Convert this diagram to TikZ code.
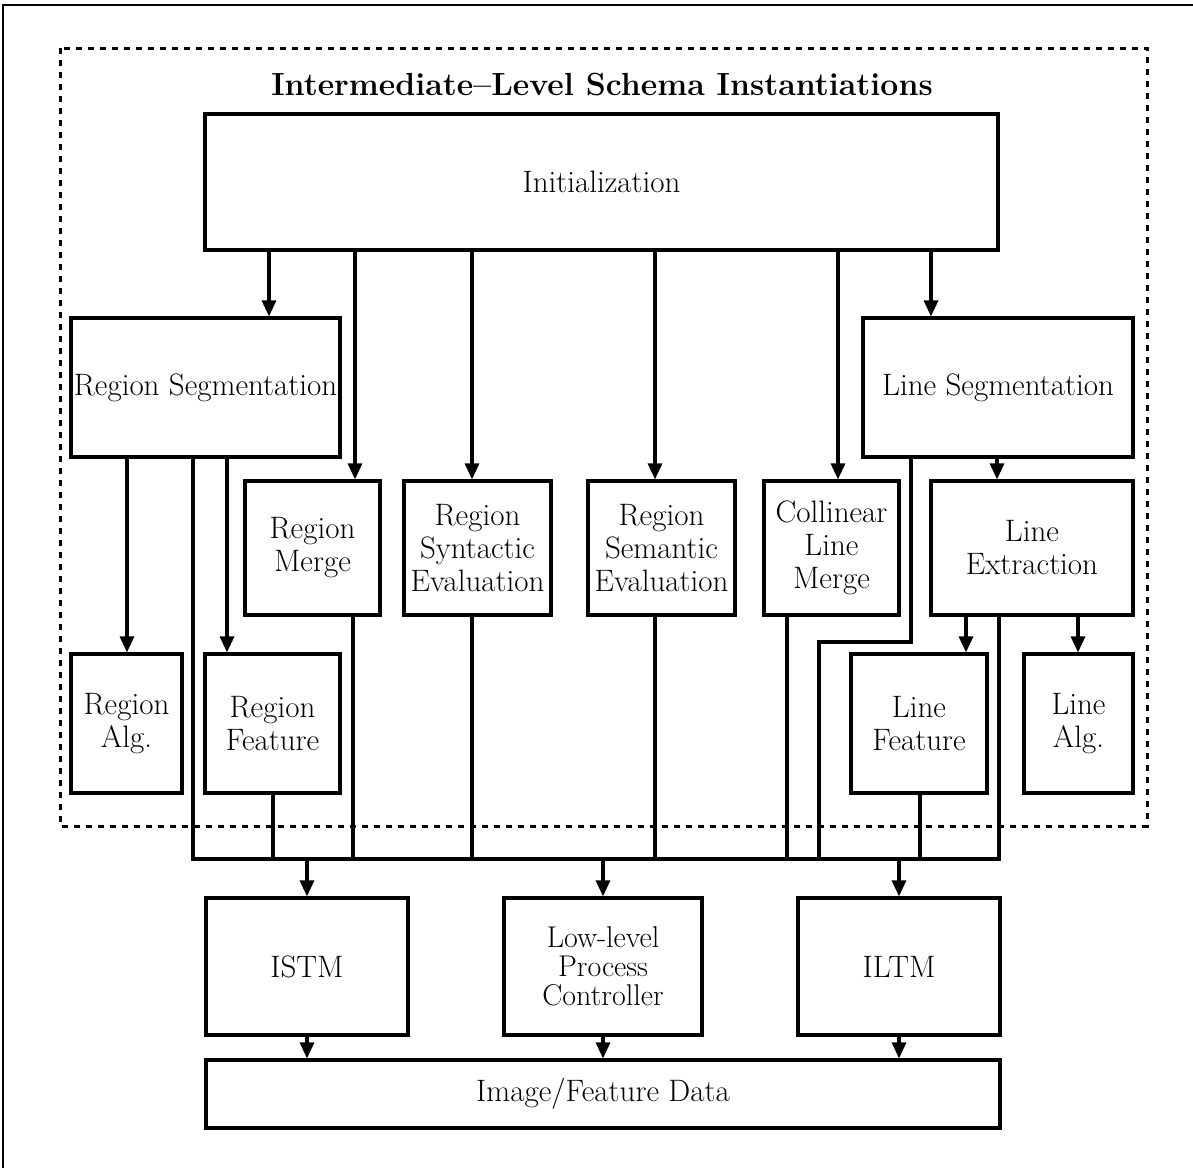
\documentclass[tikz,border=0pt]{standalone}
\usepackage{tikz}
\usetikzlibrary{arrows.meta,positioning,calc}
\tikzset{
  >={Triangle[length=16pt,width=14pt]},
  every node/.style={font=\fontsize{31}{33}\selectfont},
  box/.style={draw=black,line width=3.2pt,align=center,inner sep=0pt},
  head/.style={align=center,font=\fontsize{32}{36}\selectfont\bfseries},
  flow/.style={->,line width=3.2pt},
  link/.style={line width=3.2pt},
  group/.style={draw=black,line width=3pt,dash pattern=on 6pt off 6pt},
}

\begin{document}
\begin{tikzpicture}[x=1pt,y=1pt]
  \useasboundingbox (0,0) rectangle (1193,-1168);
  % page frame (top and left)
  \draw[line width=2.2pt] (1193,-5) -- (3,-5) -- (3,-1168);

  % schema group
  \draw[group] (60,-48) rectangle (1147,-826);
  \node[head] (title) at (602,-85) {Intermediate--Level Schema Instantiations};

  % top level
  \node[box,minimum width=793pt,minimum height=136pt] (init) at (601.5,-182) {Initialization};

  % segmentation row
  \node[box,minimum width=269pt,minimum height=139pt] (rseg) at (205.5,-387.5) {Region Segmentation};
  \node[box,minimum width=270pt,minimum height=139pt] (lseg) at (998,-387.5) {Line Segmentation};

  % middle row
  \node[box,minimum width=135pt,minimum height=134pt] (rmerge) at (312.5,-548) {Region\\Merge};
  \node[box,minimum width=147pt,minimum height=134pt] (rsyn) at (477.5,-548) {Region\\Syntactic\\Evaluation};
  \node[box,minimum width=147pt,minimum height=134pt] (rsem) at (661.5,-548) {Region\\Semantic\\Evaluation};
  \node[box,minimum width=135pt,minimum height=134pt] (cmerge) at (831.5,-548) {Collinear\\Line\\Merge};
  \node[box,minimum width=202pt,minimum height=134pt] (lext) at (1032,-548) {Line\\Extraction};

  % bottom row
  \node[box,minimum width=111pt,minimum height=139pt] (ralg) at (126.5,-723.5) {Region\\Alg.};
  \node[box,minimum width=135pt,minimum height=139pt] (rfeat) at (272.5,-723.5) {Region\\Feature};
  \node[box,minimum width=136pt,minimum height=139pt] (lfeat) at (919,-723.5) {Line\\Feature};
  \node[box,minimum width=109pt,minimum height=139pt] (lalg) at (1078.5,-723.5) {Line\\Alg.};

  % memories and data
  \node[box,minimum width=202pt,minimum height=137pt] (istm) at (307,-966.5) {ISTM};
  \node[box,minimum width=198pt,minimum height=137pt,font=\fontsize{30}{29}\selectfont] (llpc) at (603,-966.5) {Low-level\\Process\\Controller};
  \node[box,minimum width=202pt,minimum height=137pt] (iltm) at (899,-966.5) {ILTM};
  \node[box,minimum width=794pt,minimum height=68pt] (data) at (603,-1094) {Image/Feature Data};

  % initialization fan-out
  \draw[flow] (init.south -| 269,0) -- (rseg.north -| 269,0);
  \draw[flow] (init.south -| 355,0) -- (rmerge.north -| 355,0);
  \draw[flow] (init.south -| 472,0) -- (rsyn.north -| 472,0);
  \draw[flow] (init.south -| 655,0) -- (rsem.north -| 655,0);
  \draw[flow] (init.south -| 838,0) -- (cmerge.north -| 838,0);
  \draw[flow] (init.south -| 931,0) -- (lseg.north -| 931,0);

  % segmentation sub-schemas
  \draw[flow] (rseg.south -| 127,0) -- (ralg.north -| 127,0);
  \draw[flow] (rseg.south -| 227,0) -- (rfeat.north -| 227,0);
  \draw[flow] (lseg.south -| 997,0) -- (lext.north -| 997,0);
  \draw[flow] (lext.south -| 966,0) -- (lfeat.north -| 966,0);
  \draw[flow] (lext.south -| 1078,0) -- (lalg.north -| 1078,0);

  % result bus
  \coordinate (busL) at (193,-859);
  \coordinate (busR) at (999,-859);
  \coordinate (jog) at (819,-642);
  \draw[link] (rseg.south -| busL) -- (busL) -- (busR) -- (lext.south -| busR);
  \draw[link] (rfeat.south -| 273,0) -- (busL -| 273,0);
  \draw[link] (rmerge.south -| 353,0) -- (busL -| 353,0);
  \draw[link] (rsyn.south -| 472,0) -- (busL -| 472,0);
  \draw[link] (rsem.south -| 655,0) -- (busL -| 655,0);
  \draw[link] (cmerge.south -| 787,0) -- (busL -| 787,0);
  \draw[link] (lseg.south -| 911,0) |- (jog) -- (jog |- busL);
  \draw[link] (lfeat.south -| 920,0) -- (busL -| 920,0);

  \foreach \n in {istm,llpc,iltm}{
    \draw[flow] (busL -| \n.north) -- (\n.north);
    \draw[flow] (\n.south) -- (data.north -| \n.south);
  }
\end{tikzpicture}
\end{document}
